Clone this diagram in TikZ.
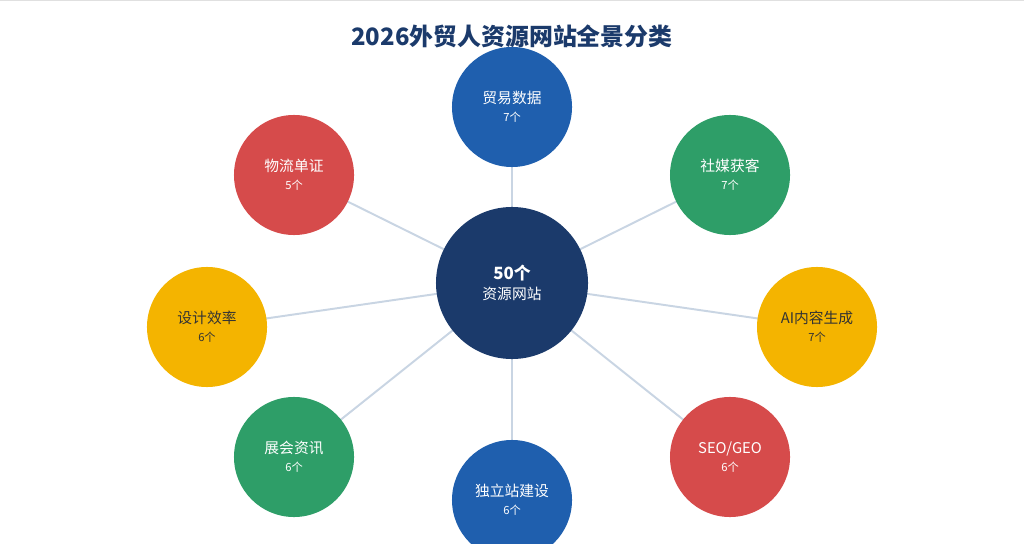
\documentclass[tikz,border=0pt]{standalone}
\usepackage{fontspec}
\setmainfont{Noto Sans CJK SC}
\usetikzlibrary{positioning}
\definecolor{hubblue}{HTML}{1B3A6B}
\definecolor{catblue}{HTML}{1F5FAE}
\definecolor{catgreen}{HTML}{2E9E68}
\definecolor{catyellow}{HTML}{F4B400}
\definecolor{catred}{HTML}{D64B4B}
\definecolor{spoke}{HTML}{C9D5E3}
\tikzset{
  hub/.style={circle, fill=hubblue, minimum size=3.8cm, text=white, align=center, inner sep=0pt},
  cat/.style={circle, fill=#1, minimum size=3cm, text=white, align=center, inner sep=0pt},
  spokeline/.style={draw=spoke, line width=1.4pt}
}
\newcommand{\catlabel}[2]{{\fontsize{10.5}{14}\selectfont #1}\\[1pt]{\fontsize{8}{10}\selectfont #2}}

\begin{document}
\begin{tikzpicture}[x=0.025cm, y=-0.025cm]
      \useasboundingbox (0,0) rectangle (1024,544);
      \draw[black!12] (0,0.5) -- (1024,0.5);

      \node (title) at (512,36) {\fontsize{17}{20}\selectfont\bfseries\color{hubblue}2026外贸人资源网站全景分类};

      \coordinate (c) at (512,283);
      \coordinate (p1) at (512,107);
      \coordinate (p2) at (730,175);
      \coordinate (p3) at (817,327);
      \coordinate (p4) at (730,457);
      \coordinate (p5) at (512,500);
      \coordinate (p6) at (294,457);
      \coordinate (p7) at (207,327);
      \coordinate (p8) at (294,175);

      \foreach \i in {1,...,8}
        \draw[spokeline] (c) -- (p\i);

      \node[hub] (hub) at (c) {{\fontsize{12}{15}\selectfont\bfseries 50个}\\[2pt]{\fontsize{10.5}{13}\selectfont 资源网站}};

      \node[cat=catblue] (trade) at (p1) {\catlabel{贸易数据}{7个}};
      \node[cat=catgreen] (social) at (p2) {\catlabel{社媒获客}{7个}};
      \node[cat=catyellow, text=black!80] (ai) at (p3) {\catlabel{AI内容生成}{7个}};
      \node[cat=catred] (seo) at (p4) {\catlabel{SEO/GEO}{6个}};
      \node[cat=catblue] (site) at (p5) {\catlabel{独立站建设}{6个}};
      \node[cat=catgreen] (expo) at (p6) {\catlabel{展会资讯}{6个}};
      \node[cat=catyellow, text=black!80] (design) at (p7) {\catlabel{设计效率}{6个}};
      \node[cat=catred] (logi) at (p8) {\catlabel{物流单证}{5个}};
\end{tikzpicture}
\end{document}
